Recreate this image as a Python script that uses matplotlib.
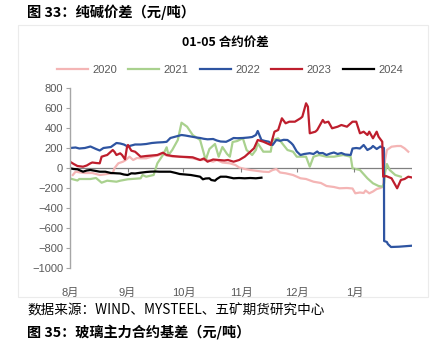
import matplotlib
matplotlib.use("Agg")
import matplotlib.pyplot as plt
from matplotlib.patches import Rectangle
import numpy as np

plt.rcParams['font.family'] = ['Liberation Sans', 'Noto Sans CJK SC', 'DejaVu Sans']
plt.rcParams['axes.unicode_minus'] = True

# days counted from Aug 1; values in yuan/ton
d2020 = [1.5, 3, 5, 8, 12, 16, 20, 23, 24, 26, 28.5, 30, 32, 34, 36, 38, 41, 44, 47, 50, 52, 55, 59, 63, 66,
         70, 74, 77, 79, 82, 86, 89, 91, 94, 97, 101, 104, 107, 109, 111, 113, 116, 120, 124, 127, 131, 135,
         138, 142, 145, 149, 152, 153.5, 156, 158, 159, 161, 163, 165, 167, 168.4, 169.5, 170.5, 173, 176,
         178, 180, 182]
v2020 = [-70, -37, -43, -50, -50, -70, -60, -50, 0, 47, 63, 80, 113, 80, 100, 97, 97, 113, 125, 140, 125, 115,
         113, 105, 97, 80, 80, 63, 80, 55, 47, 30, 5, -10, -20, -30, -37, -40, -20, -10, -45, -53, -70, -103,
         -110, -137, -150, -180, -190, -203, -200, -205, -253, -245, -250, -225, -253, -235, -210, -200, -187,
         80, 180, 213, 220, 220, 197, 163]

d2021 = [1, 4, 5, 11, 14, 17, 20, 25, 27, 31, 38, 39, 41, 45, 47, 50, 52, 53, 55, 58, 60, 63, 66, 70, 73, 75,
         78, 80, 82, 84.5, 86, 87.5, 90, 93, 95, 98, 100, 101, 104, 108, 109, 112, 117, 120, 122, 127, 129,
         131, 134, 138, 142, 147, 151, 152, 156, 160, 163, 166, 168, 169, 169.5, 170.5, 172, 175, 178]
v2021 = [-110, -125, -110, -110, -100, -147, -127, -137, -127, -113, -103, -70, -87, -70, 47, 130, 207, 130,
         180, 280, 453, 413, 330, 280, 80, 190, 240, 113, 210, 140, 113, 260, 270, 297, 180, 130, 180, 247,
         163, 163, 280, 297, 180, 163, 113, 113, 13, 113, 130, 113, 113, 130, 113, -3, -20, -103, -153, -180,
         -187, -153, -47, 40, -20, -70, -87]

d2022 = [0, 3, 5, 8, 11, 14, 16, 18, 20, 22, 25, 27, 29, 31, 33, 35, 38, 41, 44, 47, 50, 52, 54, 56, 58, 60,
         62, 65, 68, 70, 72, 74, 77, 79, 81, 84, 86, 88, 90, 93, 96, 98, 100, 101, 103, 105, 107, 109, 111,
         113, 115, 117, 119, 120, 122, 124, 126, 129, 131, 133, 134, 136, 138, 140, 142, 144, 146, 148, 151,
         152, 154, 156, 158, 160, 162, 163, 165, 167, 168, 168.9, 169, 170.5, 171, 172.7, 177, 184]
v2022 = [200, 205, 195, 200, 215, 190, 175, 200, 205, 210, 250, 245, 235, 215, 225, 235, 235, 240, 250, 255,
         258, 262, 300, 310, 320, 330, 325, 315, 305, 300, 292, 287, 290, 275, 265, 262, 280, 300, 298, 300,
         305, 310, 330, 370, 280, 270, 263, 230, 280, 272, 282, 280, 250, 230, 165, 130, 140, 148, 140, 165,
         148, 150, 130, 145, 155, 140, 150, 135, 130, 195, 200, 195, 230, 180, 200, 220, 190, 215, 205, 200,
         -730, -740, -760, -790, -787, -777]

d2023 = [0, 2, 4, 7, 9, 11, 12, 14, 16, 17, 19, 20, 23, 24, 25, 27, 28, 29.6, 30.7, 31.2, 33, 35, 36, 38, 41,
         44, 47, 50, 52, 55, 59, 63, 66, 70, 72, 74, 77, 80, 83, 85, 88, 91, 94, 97, 99, 101, 104, 108, 110,
         112, 114, 116, 118, 121, 124, 125, 127, 128, 129, 132, 133, 136, 137, 139, 141, 144, 146, 149, 152,
         154, 156, 158, 160, 161, 163, 165, 166, 168, 168.5, 170, 173, 176, 178, 180, 182, 183.5]
v2023 = [63, 40, 20, 13, 25, 47, 55, 50, 47, 113, 125, 130, 180, 160, 130, 147, 130, 87, 213, 230, 173, 163,
         147, 113, 120, 125, 130, 153, 130, 120, 113, 110, 107, 80, 95, 63, 85, 80, 75, 80, 63, 80, 113, 163,
         197, 280, 263, 230, 363, 380, 497, 447, 463, 463, 497, 513, 647, 613, 347, 363, 380, 480, 453, 463,
         397, 413, 430, 413, 463, 463, 347, 363, 330, 363, 297, 363, 313, 263, -87, -80, -103, -203, -120,
         -110, -87, -93]

d2024 = [0, 2, 4, 7, 9, 11, 14, 16, 19, 22, 25, 27, 29, 31, 33, 35, 38, 41, 43, 46, 48, 51, 54, 57, 59, 62,
         65, 68, 70, 71.5, 73, 75, 76, 78, 79, 81, 84, 86, 88, 91, 94, 97, 100, 103]
v2024 = [-3, -10, -13, -37, -25, -20, -30, -37, -37, -50, -53, -55, -65, -70, -53, -55, -47, -40, -37, -35,
         -37, -37, -37, -50, -60, -65, -70, -80, -87, -113, -105, -103, -120, -127, -110, -87, -87, -95, -103,
         -100, -103, -100, -103, -97]

month_days = [0, 31, 61, 92, 122, 153]
month_labels = ['8月', '9月', '10月', '11月', '12月', '1月']
yticks = [800, 600, 400, 200, 0, -200, -400, -600, -800, -1000]

series = [
    ('2020', d2020, v2020, '#F4B5B5'),
    ('2021', d2021, v2021, '#A9D18E'),
    ('2022', d2022, v2022, '#2E54A1'),
    ('2023', d2023, v2023, '#BE1E2D'),
    ('2024', d2024, v2024, '#000000'),
]

W, H = 434, 343
fig = plt.figure(figsize=(W / 100, H / 100), dpi=100)

# light frame around the chart block
fig.patches.append(Rectangle((18 / W, 1 - 297 / H), 410 / W, 272 / H, transform=fig.transFigure,
                             fill=False, edgecolor='#EBEBEB', linewidth=0.8))

ax = fig.add_axes([70 / W, 1 - 268 / H, 342 / W, 180 / H])
for name, d, v, c in series:
    ax.plot(d, v, color=c, linewidth=1.6, label=name, solid_joinstyle='round')

ax.set_xlim(0, 184)
ax.set_ylim(-1000, 800)
ax.set_yticks(yticks)
ax.set_xticks(month_days)
ax.set_xticklabels(month_labels)
ax.tick_params(axis='x', length=0, pad=14, labelsize=8, labelcolor='#595959')
ax.tick_params(axis='y', length=3, width=0.8, color='#A6A6A6', labelsize=8, labelcolor='#595959', pad=2)
for s in ['top', 'right', 'bottom']:
    ax.spines[s].set_visible(False)
ax.spines['left'].set_color('#A6A6A6')
ax.spines['left'].set_linewidth(1.0)

# zero line with month ticks
ax.axhline(0, color='#808080', linewidth=0.9, zorder=0.5)
ax.vlines(month_days + [184], -35, 0, color='#808080', linewidth=0.8)

fig.legend(loc='center', bbox_to_anchor=(230 / W, 1 - 70 / H), ncol=5, frameon=False,
           fontsize=8, labelcolor='#595959', handlelength=2.8, columnspacing=1.0, handletextpad=0.4)

fig.text(27 / W, 1 - 12 / H, '图 33：纯碱价差（元/吨）', fontsize=10.3, fontweight='bold',
         family=['Noto Sans CJK SC'], va='center', ha='left')
fig.text(225 / W, 1 - 42 / H, '01-05 合约价差', fontsize=9, fontweight='bold',
         family=['Noto Sans CJK SC'], va='center', ha='center')
fig.text(27 / W, 1 - 310 / H, '数据来源：WIND、MYSTEEL、五矿期货研究中心', fontsize=9.8,
         family=['Noto Sans CJK SC'], va='center', ha='left')
fig.text(27 / W, 1 - 333 / H, '图 35：玻璃主力合约基差（元/吨）', fontsize=10.2, fontweight='bold',
         family=['Noto Sans CJK SC'], va='center', ha='left')

fig.savefig('out.png', dpi=100)
